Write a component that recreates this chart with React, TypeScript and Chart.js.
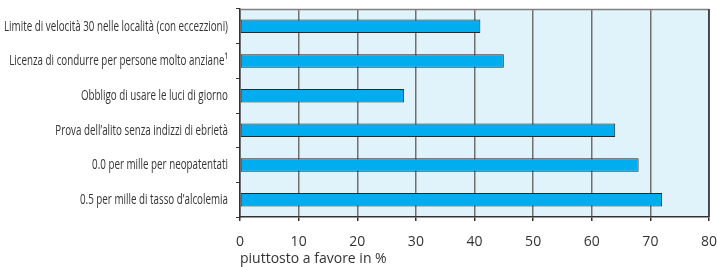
import React, { useEffect, useRef } from "react";
import { Chart, registerables } from "chart.js";

Chart.register(...registerables);

const categories = [
  "Limite di velocità 30 nelle località (con eccezzioni)",
  "Licenza di condurre per persone molto anziane¹",
  "Obbligo di usare le luci di giorno",
  "Prova dell’alito senza indizzi di ebrietà",
  "0.0 per mille per neopatentati",
  "0.5 per mille di tasso d’alcolemia",
];
const values = [41, 45, 28, 64, 68, 72];
const xTicks = [0, 10, 20, 30, 40, 50, 60, 70, 80];
const xTitle = "piuttosto a favore in %";

const LABEL_FONT = "15px 'Open Sans', sans-serif";
const LABEL_RIGHT = 228;
const FIRST_LABEL_WIDTH = 224;

const bgPlugin = {
  id: "plotBg",
  beforeDraw(chart: any) {
    const { ctx, chartArea: a } = chart;
    ctx.save();
    ctx.fillStyle = "#e0f2fa";
    ctx.fillRect(a.left, a.top, a.right - a.left, a.bottom - a.top);
    ctx.restore();
  },
  afterDatasetsDraw(chart: any) {
    const { ctx, chartArea: a } = chart;
    ctx.save();
    ctx.strokeStyle = "#808080";
    ctx.lineWidth = 1.5;
    ctx.beginPath();
    ctx.moveTo(a.left, a.top + 0.5);
    ctx.lineTo(a.right, a.top + 0.5);
    ctx.stroke();
    ctx.strokeStyle = "#333";
    ctx.lineWidth = 1.5;
    ctx.beginPath();
    ctx.moveTo(a.right, a.top);
    ctx.lineTo(a.right, a.bottom);
    ctx.stroke();
    ctx.restore();
  },
  afterDraw(chart: any) {
    const { ctx } = chart;
    const y = chart.scales.y;
    const labels = chart.data.labels as string[];
    ctx.save();
    ctx.font = LABEL_FONT;
    const sx = FIRST_LABEL_WIDTH / ctx.measureText(labels[0]).width;
    ctx.fillStyle = "#333";
    ctx.textAlign = "right";
    ctx.textBaseline = "middle";
    labels.forEach((lab, i) => {
      const py = y.getPixelForValue(i);
      ctx.save();
      ctx.translate(LABEL_RIGHT, py);
      ctx.scale(sx, 1);
      ctx.fillText(lab, 0, 0);
      ctx.restore();
    });
    ctx.restore();
  },
};

export default function App() {
  const ref = useRef<HTMLCanvasElement>(null);
  useEffect(() => {
    const chart = new Chart(ref.current!, {
      type: "bar",
      data: {
        labels: categories,
        datasets: [
          {
            data: values,
            backgroundColor: "#00adee",
            borderColor: "#2a2a2a",
            borderWidth: 1,
            borderSkipped: false,
            barPercentage: 0.39,
            categoryPercentage: 1,
          },
        ],
      },
      options: {
        indexAxis: "y",
        animation: false,
        responsive: false,
        maintainAspectRatio: false,
        layout: { padding: { top: 9, right: 0, left: 0, bottom: 0 } },
        plugins: { legend: { display: false }, tooltip: { enabled: false } },
        scales: {
          x: {
            min: 0,
            max: 80,
            afterBuildTicks: (s: any) => {
              s.ticks = xTicks.map((v) => ({ value: v }));
            },
            afterFit: (s: any) => {
              s.height = 50;
              s.paddingRight = 8;
              s.paddingLeft = 0;
            },
            grid: {
              color: "#707070",
              lineWidth: 1.5,
              drawTicks: true,
              tickLength: 4,
              tickColor: "#333",
            },
            border: { color: "#333", width: 1.5 },
            ticks: {
              color: "#333",
              padding: 13,
              font: { family: "'Open Sans', sans-serif", size: 14 },
              maxRotation: 0,
            },
            title: {
              display: true,
              text: xTitle,
              align: "start",
              color: "#333",
              padding: { top: 0, bottom: 0 },
              font: { family: "'Open Sans', sans-serif", size: 14 },
            },
          },
          y: {
            afterFit: (s: any) => {
              s.width = 240;
            },
            grid: {
              offset: true,
              drawOnChartArea: false,
              drawTicks: true,
              tickLength: 4,
              tickColor: "#333",
            },
            border: { color: "#333", width: 1.5 },
            ticks: { display: false },
          },
        },
      },
      plugins: [bgPlugin],
    });
    return () => chart.destroy();
  }, []);
  return (
    <div style={{ position: "fixed", left: 0, top: 0, width: 717, height: 267, background: "#fff" }}>
      <canvas ref={ref} width={717} height={267} />
    </div>
  );
}
